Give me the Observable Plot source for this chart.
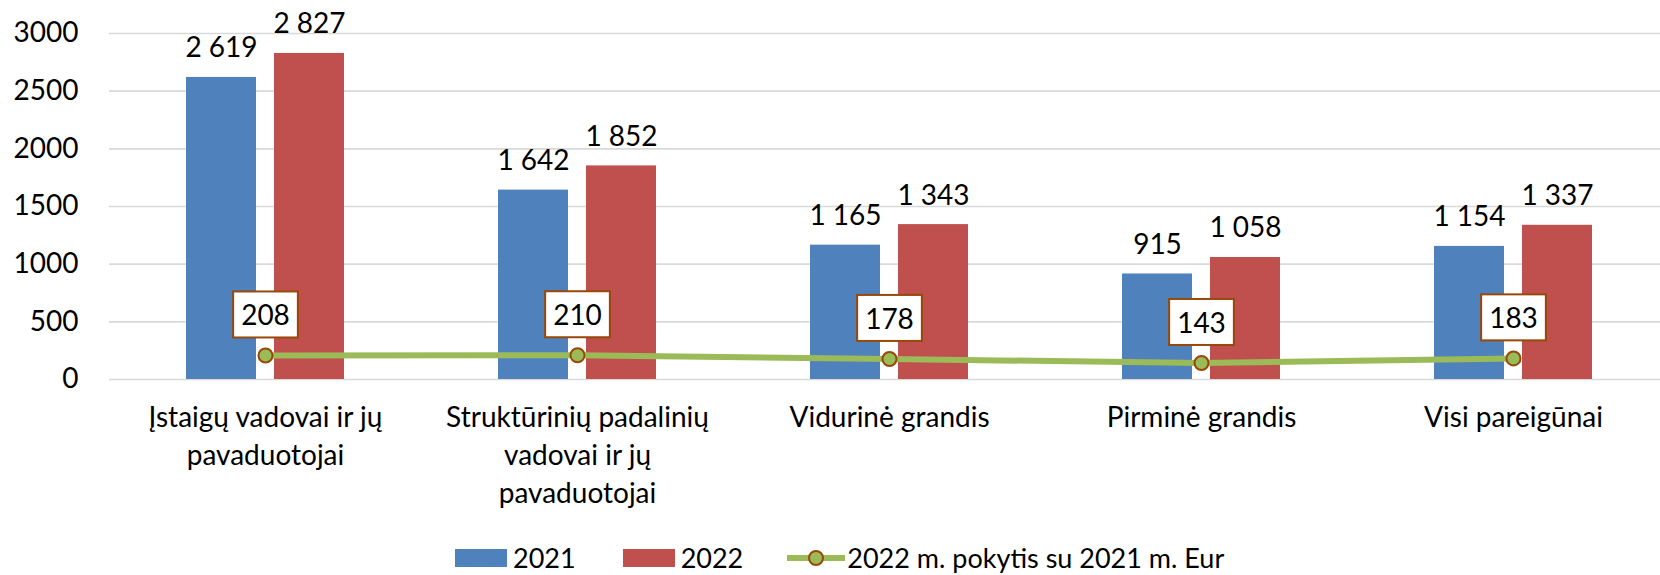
<!DOCTYPE html>
<html>
<head>
<meta charset="utf-8">
<script src="https://cdn.jsdelivr.net/npm/d3@7"></script>
<script src="https://cdn.jsdelivr.net/npm/@observablehq/plot@0.6"></script>
<style>
  html, body { margin: 0; padding: 0; background: #fff; overflow: hidden; }
  body { width: 1660px; height: 575px; font-family: Lato, "Noto Sans", sans-serif; }
  #legend { position: absolute; left: 455px; top: 543px; height: 30px; display: flex; align-items: center; font-size: 27px; color: #000; line-height: 30px; }
  #legend .item { display: flex; align-items: center; }
  #legend .sw { width: 52px; height: 18px; display: inline-block; margin-right: 6px; }
</style>
</head>
<body>
<div id="chart"></div>
<div id="legend">
  <span class="item" style="margin-right:47px"><span class="sw" style="background:#4F81BD"></span>2021</span>
  <span class="item" style="margin-right:44px"><span class="sw" style="background:#C0504D"></span>2022</span>
  <span class="item"><svg width="58" height="20" style="margin-right:2px"><line x1="0" x2="58" y1="10" y2="10" stroke="#9BBB59" stroke-width="6"/><circle cx="29" cy="10" r="7" fill="#9BBB59" stroke="#984807" stroke-width="2"/></svg>2022 m. pokytis su 2021 m. Eur</span>
</div>
<script>
const categories = [
  "Įstaigų vadovai ir jų\npavaduotojai",
  "Struktūrinių padalinių\nvadovai ir jų\npavaduotojai",
  "Vidurinė grandis",
  "Pirminė grandis",
  "Visi pareigūnai"
];
const values2021 = [2619, 1642, 1165, 915, 1154];
const values2022 = [2827, 1852, 1343, 1058, 1337];
const change = [208, 210, 178, 143, 183];
const yTicks = [0, 500, 1000, 1500, 2000, 2500, 3000];

const rows2021 = categories.map((c, i) => ({cat: c, v: values2021[i]}));
const rows2022 = categories.map((c, i) => ({cat: c, v: values2022[i]}));
const rowsChange = categories.map((c, i) => ({cat: c, v: change[i]}));

const fmt = v => String(v).replace(/\B(?=(\d{3})+(?!\d))/g, " ");
const FS = 28;

const plot = Plot.plot({
  width: 1660,
  height: 540,
  marginLeft: 109,
  marginRight: -9,
  marginTop: 33,
  marginBottom: 161,
  style: {fontFamily: "Lato, 'Noto Sans', sans-serif", fontSize: FS + "px", color: "#000", background: "#fff"},
  x: {domain: categories, padding: 0, axis: null},
  y: {domain: [0, 3000], axis: null},
  marks: [
    Plot.gridY(yTicks, {stroke: "#D9D9D9", strokeOpacity: 1, strokeWidth: 1.6}),
    Plot.axisY(yTicks, {label: null, tickSize: 0, tickPadding: 31, fontSize: FS, fill: "#000", tickFormat: d => String(d)}),
    Plot.axisX(categories, {label: null, tickSize: 0, tickPadding: 20, fontSize: FS, fill: "#000", lineHeight: 1.36}),
    Plot.barY(rows2021, {x: "cat", y: "v", fill: "#4F81BD", insetLeft: 77, insetRight: 165}),
    Plot.barY(rows2022, {x: "cat", y: "v", fill: "#C0504D", insetLeft: 165, insetRight: 77}),
    Plot.text(rows2021, {x: "cat", y: "v", text: d => fmt(d.v), dx: -44, dy: -20, lineAnchor: "bottom", fontSize: FS, fill: "#000"}),
    Plot.text(rows2022, {x: "cat", y: "v", text: d => fmt(d.v), dx: 44, dy: -20, lineAnchor: "bottom", fontSize: FS, fill: "#000"}),
    Plot.line(rowsChange, {x: "cat", y: "v", stroke: "#9BBB59", strokeWidth: 6}),
    Plot.dot(rowsChange, {x: "cat", y: "v", r: 7, fill: "#9BBB59", stroke: "#984807", strokeWidth: 2}),
    Plot.text(rowsChange, {x: "cat", y: "v", text: d => fmt(d.v), dy: -39, lineAnchor: "middle", fontSize: FS, fill: "#000"})
  ]
});
document.getElementById("chart").appendChild(plot);

// draw boxes behind the change labels
const textGroups = plot.querySelectorAll('g[aria-label="text"]');
const lastG = textGroups[textGroups.length - 1];
lastG.querySelectorAll("text").forEach(t => {
  const b = t.getBBox();
  const r = document.createElementNS("http://www.w3.org/2000/svg", "rect");
  const padX = 8, padY = 6;
  r.setAttribute("x", b.x - padX);
  r.setAttribute("y", b.y - padY);
  r.setAttribute("width", b.width + 2 * padX);
  r.setAttribute("height", b.height + 2 * padY);
  r.setAttribute("fill", "#fff");
  r.setAttribute("stroke", "#984807");
  r.setAttribute("stroke-width", "2");
  if (t.getAttribute("transform")) r.setAttribute("transform", t.getAttribute("transform"));
  lastG.insertBefore(r, t);
});
</script>
</body>
</html>
